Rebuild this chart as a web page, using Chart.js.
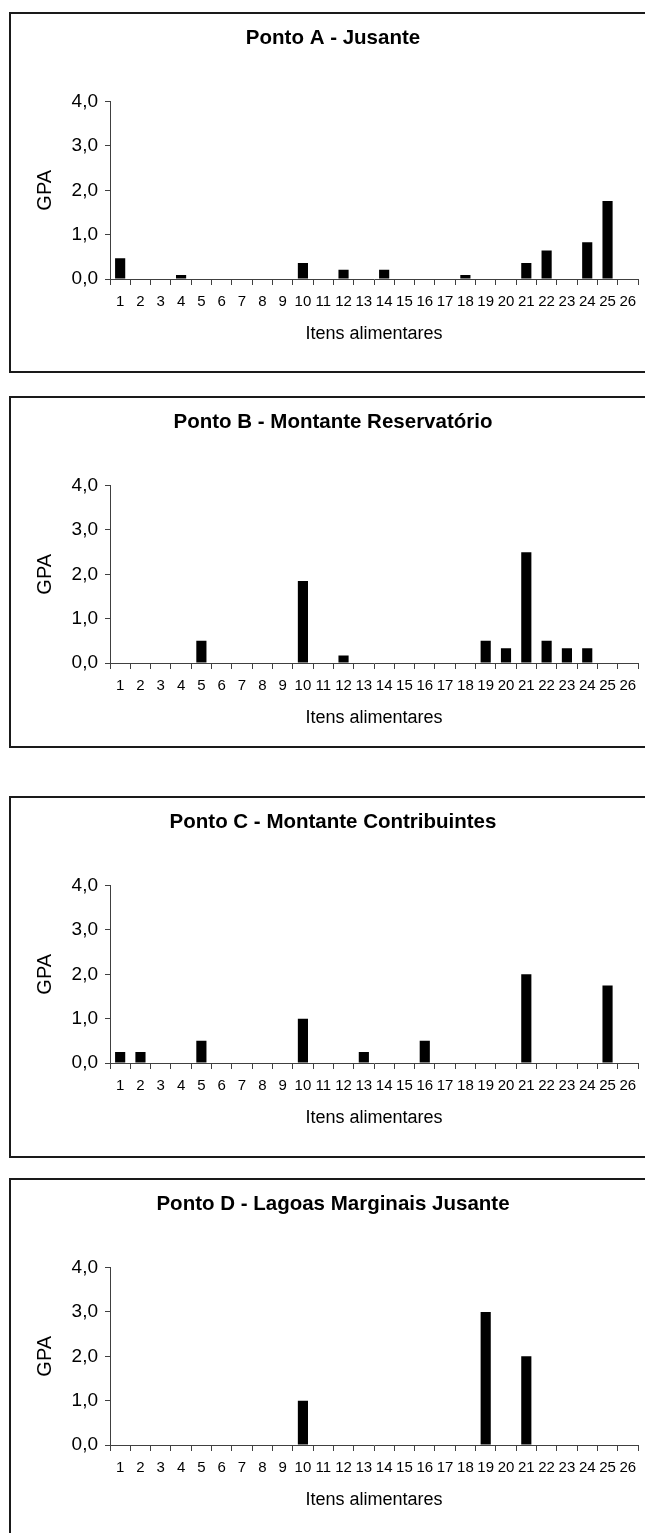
<!DOCTYPE html>
<html>
<head>
<meta charset="utf-8">
<title>GPA - Itens alimentares</title>
<script src="https://cdn.jsdelivr.net/npm/chart.js@4.4.0/dist/chart.umd.min.js"></script>
<style>
    html, body { margin: 0; padding: 0; background: #fff; overflow: hidden; }
    body { width: 645px; height: 1533px; position: relative; }
    .frame { position: absolute; left: 9px; width: 700px; border: 2px solid #1a1a1a; box-sizing: border-box; }
    canvas { position: absolute; left: 10px; }
</style>
</head>
<body>

<div class="frame" style="top:12px;height:361px"></div>
<canvas id="chartA" width="646" height="360" style="top:12px"></canvas>

<div class="frame" style="top:396px;height:352px"></div>
<canvas id="chartB" width="646" height="360" style="top:396px"></canvas>

<div class="frame" style="top:796px;height:362px"></div>
<canvas id="chartC" width="646" height="360" style="top:796px"></canvas>

<div class="frame" style="top:1178px;height:400px"></div>
<canvas id="chartD" width="646" height="360" style="top:1178px"></canvas>

<script>
// ==========================
// DATA
// ==========================
const categories = ["1", "2", "3", "4", "5", "6", "7", "8", "9", "10", "11", "12", "13",
    "14", "15", "16", "17", "18", "19", "20", "21", "22", "23", "24", "25", "26"];
const yTickLabels = ["0,0", "1,0", "2,0", "3,0", "4,0"];

const titleA = "Ponto A - Jusante";
const titleB = "Ponto B - Montante Reservatório";
const titleC = "Ponto C - Montante Contribuintes";
const titleD = "Ponto D - Lagoas Marginais Jusante";

const valuesA = [0.47, 0, 0, 0.09, 0, 0, 0, 0, 0, 0.36, 0, 0.21, 0, 0.21, 0, 0, 0, 0.09, 0, 0, 0.36, 0.64, 0, 0.83, 1.76, 0];
const valuesB = [0, 0, 0, 0, 0.5, 0, 0, 0, 0, 1.85, 0, 0.17, 0, 0, 0, 0, 0, 0, 0.5, 0.33, 2.5, 0.5, 0.33, 0.33, 0, 0];
const valuesC = [0.25, 0.25, 0, 0, 0.5, 0, 0, 0, 0, 1.0, 0, 0, 0.25, 0, 0, 0.5, 0, 0, 0, 0, 2.0, 0, 0, 0, 1.75, 0];
const valuesD = [0, 0, 0, 0, 0, 0, 0, 0, 0, 1.0, 0, 0, 0, 0, 0, 0, 0, 0, 3.0, 0, 2.0, 0, 0, 0, 0, 0];

const xTitle = "Itens alimentares";
const yTitle = "GPA";

// ==========================
// DEFAULTS
// ==========================
Chart.defaults.font.family = "'Liberation Sans', Arial, sans-serif";
Chart.defaults.color = "#000";

const axisColor = "#404040";

// ==========================
// BUILD ONE PANEL
// ==========================
function makeChart(id, title, values) {
    const ctx = document.getElementById(id);
    return new Chart(ctx, {
        type: "bar",
        data: {
            labels: categories,
            datasets: [{
                data: values,
                backgroundColor: "#000",
                borderWidth: 0,
                categoryPercentage: 1.0,
                barPercentage: 0.5
            }]
        },
        options: {
            responsive: false,
            animation: false,
            layout: { padding: 0 },
            plugins: {
                legend: { display: false },
                tooltip: { enabled: false },
                title: {
                    display: true,
                    text: title,
                    color: "#000",
                    font: { size: 20.5, weight: "bold" },
                    padding: { top: 14, bottom: 51 }
                }
            },
            scales: {
                x: {
                    offset: true,
                    grid: {
                        offset: true,
                        drawOnChartArea: false,
                        drawTicks: true,
                        tickLength: 6,
                        color: axisColor
                    },
                    border: { display: true, color: axisColor, width: 1 },
                    ticks: {
                        autoSkip: false,
                        maxRotation: 0,
                        minRotation: 0,
                        padding: 8,
                        font: { size: 15 }
                    },
                    title: {
                        display: true,
                        text: xTitle,
                        font: { size: 18 },
                        padding: { top: 0, bottom: 27 }
                    },
                    afterFit: function (scale) { scale.height = 93; }
                },
                y: {
                    min: 0,
                    max: 4,
                    grid: {
                        drawOnChartArea: false,
                        drawTicks: true,
                        tickLength: 5,
                        color: axisColor
                    },
                    border: { display: true, color: axisColor, width: 1 },
                    ticks: {
                        stepSize: 1,
                        padding: 7,
                        font: { size: 19 },
                        callback: function (value, index) { return yTickLabels[index]; }
                    },
                    title: {
                        display: true,
                        text: yTitle,
                        font: { size: 20 },
                        padding: { top: 23, bottom: 0 }
                    },
                    afterFit: function (scale) { scale.width = 100; }
                },
                // empty right axis, only keeps a gap after the last category
                yRight: {
                    position: "right",
                    display: true,
                    grid: { display: false },
                    border: { display: false },
                    ticks: { display: false },
                    afterFit: function (scale) { scale.width = 18; }
                }
            }
        }
    });
}

makeChart("chartA", titleA, valuesA);
makeChart("chartB", titleB, valuesB);
makeChart("chartC", titleC, valuesC);
makeChart("chartD", titleD, valuesD);
</script>
</body>
</html>
